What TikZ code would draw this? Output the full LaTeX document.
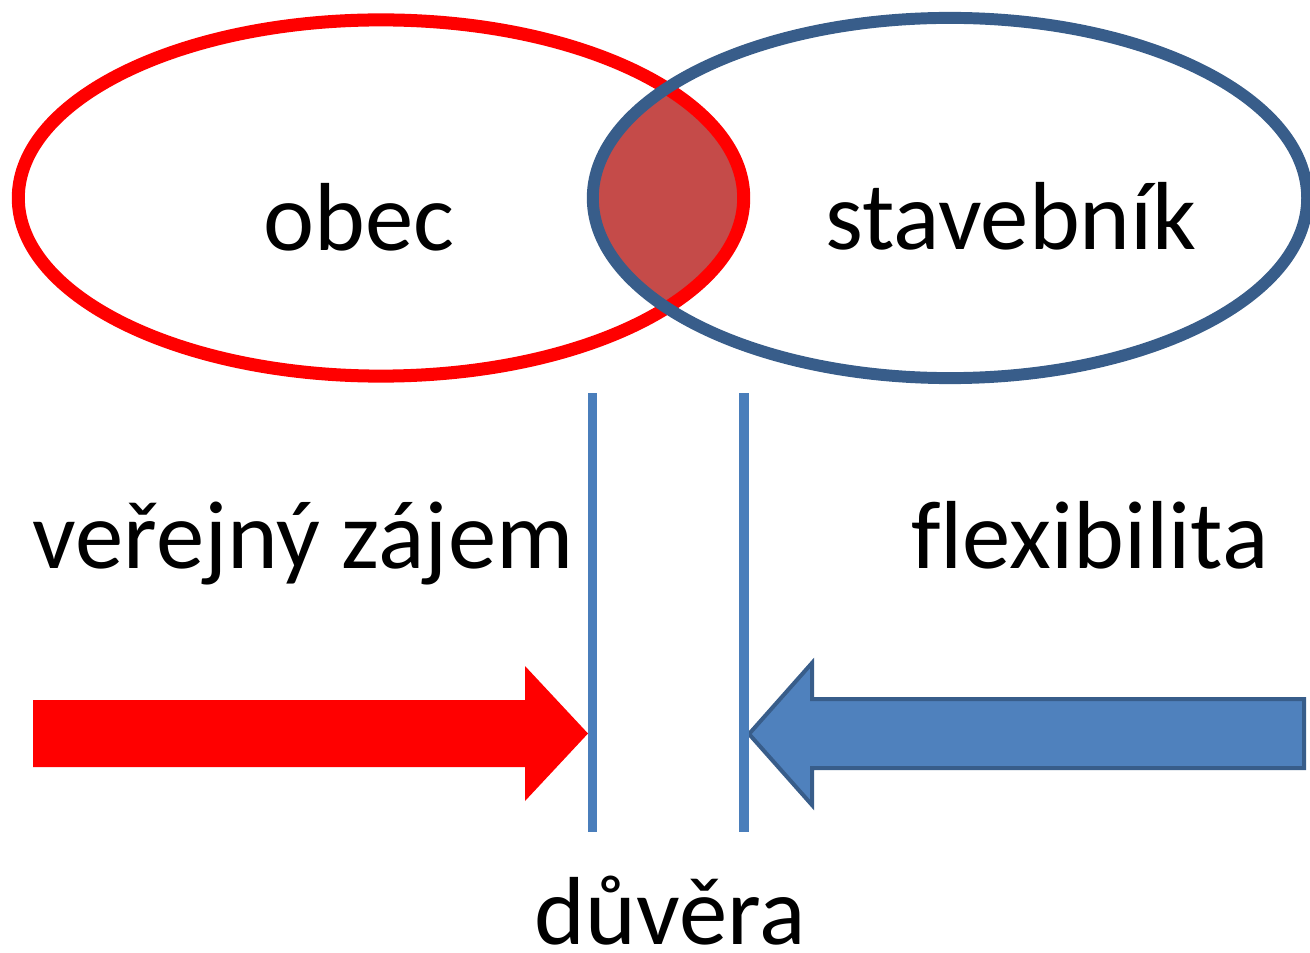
\documentclass[tikz,border=0pt]{standalone}
\usepackage{fontspec}
\setmainfont{Carlito}[Ligatures=NoCommon]
\definecolor{redline}{RGB}{255,0,0}
\definecolor{blueline}{RGB}{56,93,138}
\definecolor{lensfill}{RGB}{197,75,73}
\definecolor{barblue}{RGB}{74,126,187}
\definecolor{arrowblue}{RGB}{79,129,189}
\tikzset{
  lbl/.style={anchor=base, inner sep=0pt, font=\fontsize{27.5}{33}\selectfont},
  redell/.style={draw=redline, line width=3.7pt},
  blueell/.style={draw=blueline, line width=3.4pt},
  bar/.style={draw=barblue, line width=2.7pt},
  redarrow/.style={fill=redline},
  bluearrow/.style={fill=arrowblue, draw=blueline, line width=1.14pt, line join=miter},
}
\begin{document}
\begin{tikzpicture}[x=0.01cm, y=-0.01cm]
\useasboundingbox (0,0) rectangle (1310,952);
% lens
\begin{scope}
  \clip (381,198) ellipse [x radius=3.625cm, y radius=1.78cm];
  \fill[lensfill] (950,198) ellipse [x radius=3.57cm, y radius=1.80cm];
\end{scope}
\draw[redell] (381,198) ellipse [x radius=3.625cm, y radius=1.78cm];
\draw[blueell] (950,198) ellipse [x radius=3.57cm, y radius=1.80cm];
% labels
\node[lbl] (obec) at (359,251) {obec};
\node[lbl] (stav) at (1011,250) {stavebník};
\node[lbl] (vz) at (303,568) {veřejný zájem};
\node[lbl] (flex) at (1090,568) {flexibilita};
\node[lbl] (duv) at (670,944) {důvěra};
% arrows
\fill[redarrow] (33,700) -- (525,700) -- (525,666) -- (588,733.5) -- (525,801) -- (525,767) -- (33,767) -- cycle;
\draw[bluearrow] (1304,699) -- (812,699) -- (812,663) -- (749,734) -- (812,805) -- (812,768) -- (1304,768) -- cycle;
% bars
\coordinate (b1t) at (592.7,393);
\coordinate (b1b) at (592.7,832);
\coordinate (b2t) at (744,393);
\coordinate (b2b) at (744,832);
\draw[bar] (b1t) -- (b1b);
\draw[bar] (b2t) -- (b2b);
\end{tikzpicture}
\end{document}
